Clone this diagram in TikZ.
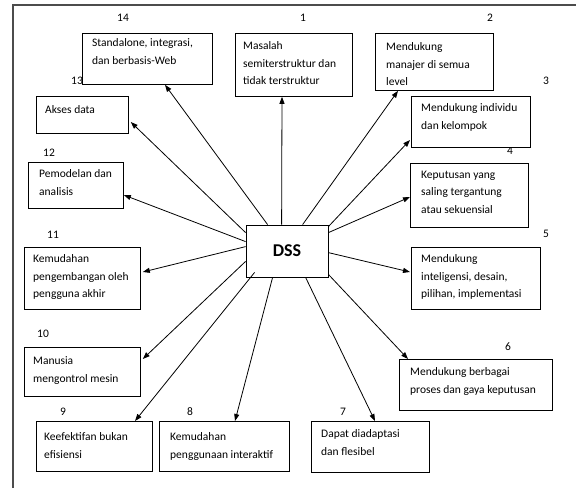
\documentclass[tikz,border=0pt]{standalone}
\usepackage{fontspec}
\setmainfont{Carlito}
\usetikzlibrary{arrows.meta,calc}
\begin{document}
\begin{tikzpicture}[x=1pt,y=-1pt,
  boxnode/.style={draw=black,fill=white,line width=0.8pt,inner sep=0pt,anchor=north west},
  txt/.style={inner sep=0pt,anchor=north west,align=left,font={\fontsize{11.5}{17.5}\selectfont}},
  num/.style={inner sep=0pt,font={\fontsize{11.5}{14}\selectfont}},
  arr/.style={line width=0.8pt,-{Triangle[length=7pt,width=5pt]}},
  frameline/.style={draw=black!70,line width=1.2pt}]
\useasboundingbox (0,0) rectangle (576,488);
\draw[frameline] (13,488) -- (13,5) -- (576,5);
% number labels
\node[num] (n14) at (123,18) {14};
\node[num] (n1) at (303,18) {1};
\node[num] (n2) at (490,18) {2};
\node[num] (n3) at (546,81) {3};
\node[num] (n4) at (510,151) {4};
\node[num] (n5) at (546,234) {5};
\node[num] (n6) at (508,347) {6};
\node[num] (n7) at (343,412) {7};
\node[num] (n8) at (190,412) {8};
\node[num] (n9) at (63,412) {9};
\node[num] (n10) at (43,334) {10};
\node[num] (n11) at (53,235) {11};
\node[num] (n12) at (49,153) {12};
\node[num] (n13) at (77,81) {13};
% boxes
\node[boxnode,minimum width=130pt,minimum height=51pt] (b14) at (82,33) {};
\node[boxnode,minimum width=117pt,minimum height=63pt] (b1) at (235,33) {};
\node[boxnode,minimum width=118pt,minimum height=57pt] (b2) at (375,33) {};
\node[boxnode,minimum width=119pt,minimum height=51pt] (b3) at (411,96) {};
\node[boxnode,minimum width=118pt,minimum height=64pt] (b4) at (410,163) {};
\node[boxnode,minimum width=129pt,minimum height=62pt] (b5) at (411,247) {};
\node[boxnode,minimum width=153pt,minimum height=51pt] (b6) at (399,359) {};
\node[boxnode,minimum width=118pt,minimum height=51pt] (b7) at (311,421) {};
\node[boxnode,minimum width=130pt,minimum height=50pt] (b8) at (159,421) {};
\node[boxnode,minimum width=116pt,minimum height=50pt] (b9) at (36,421) {};
\node[boxnode,minimum width=116pt,minimum height=49pt] (b10) at (24,347) {};
\node[boxnode,minimum width=116pt,minimum height=62pt] (b11) at (24,247) {};
\node[boxnode,minimum width=95pt,minimum height=46pt] (b12) at (28,162) {};
\node[boxnode,minimum width=92pt,minimum height=37pt] (b13) at (36,96) {};
% box texts
\node[txt] (t14) at ($(b14.north west)+(10,5.5)$) {Standalone, integrasi,\\dan berbasis-Web};
\node[txt] (t1) at ($(b1.north west)+(8,8.5)$) {Masalah\\semiterstruktur dan\\tidak terstruktur};
\node[txt] (t2) at ($(b2.north west)+(11,9.5)$) {Mendukung\\manajer di semua\\level};
\node[txt] (t3) at ($(b3.north west)+(10,7.5)$) {Mendukung individu\\dan kelompok};
\node[txt] (t4) at ($(b4.north west)+(11,7.5)$) {Keputusan yang\\saling tergantung\\atau sekuensial};
\node[txt] (t5) at ($(b5.north west)+(10,7.5)$) {Mendukung\\inteligensi, desain,\\pilihan, implementasi};
\node[txt] (t6) at ($(b6.north west)+(11,8.5)$) {Mendukung berbagai\\proses dan gaya keputusan};
\node[txt] (t7) at ($(b7.north west)+(10,8.5)$) {Dapat diadaptasi\\dan flesibel};
\node[txt] (t8) at ($(b8.north west)+(11,11.5)$) {Kemudahan\\penggunaan interaktif};
\node[txt] (t9) at ($(b9.north west)+(8,11.5)$) {Keefektifan bukan\\efisiensi};
\node[txt] (t10) at ($(b10.north west)+(9,9.5)$) {Manusia\\mengontrol mesin};
\node[txt] (t11) at ($(b11.north west)+(9,7.5)$) {Kemudahan\\pengembangan oleh\\pengguna akhir};
\node[txt] (t12) at ($(b12.north west)+(11,7.5)$) {Pemodelan dan\\analisis};
\node[txt] (t13) at ($(b13.north west)+(9,9.5)$) {Akses data};
% center
\node[draw=black,line width=0.8pt,minimum width=82pt,minimum height=52pt,inner sep=0pt,font={\fontsize{18}{20}\selectfont\bfseries}] (dss) at (287,251) {DSS};
% arrows
\draw[arr] ([xshift=36pt]dss.north west) -- ([xshift=47pt]b1.south west);
\draw[arr] ([xshift=57pt]dss.north west) -- ([xshift=23pt]b2.south west);
\draw[arr] ([yshift=-2pt]dss.north east) -- ([xshift=-1pt,yshift=-44pt]b3.north west);
\draw[arr] ([yshift=-8pt]dss.north east) -- ([yshift=-34pt]b4.north west);
\draw[arr] ([yshift=-28pt]dss.north east) -- ([xshift=-1pt,yshift=-25pt]b5.north west);
\draw[arr] ([yshift=3pt]dss.south east) -- ([xshift=9pt]b6.north west);
\draw[arr] ([xshift=60pt]dss.south west) -- ([xshift=64pt]b7.north west);
\draw[arr] ([xshift=27pt]dss.south west) -- ([xshift=76pt]b8.north west);
\draw[arr] ([xshift=9pt,yshift=5pt]dss.south west) -- ([xshift=99pt]b9.north west);
\draw[arr] ([yshift=16pt]dss.south west) -- ([xshift=2pt,yshift=-12pt]b10.north east);
\draw[arr] ([yshift=-22pt]dss.north west) -- ([xshift=2pt,yshift=-25pt]b11.north east);
\draw[arr] ([yshift=-17pt]dss.north west) -- ([yshift=-33pt]b12.north east);
\draw[arr] ([yshift=-8pt]dss.north west) -- ([xshift=2pt,yshift=-26pt]b13.north east);
\draw[arr] ([xshift=22pt]dss.north west) -- ([xshift=83pt]b14.south west);
\end{tikzpicture}
\end{document}
